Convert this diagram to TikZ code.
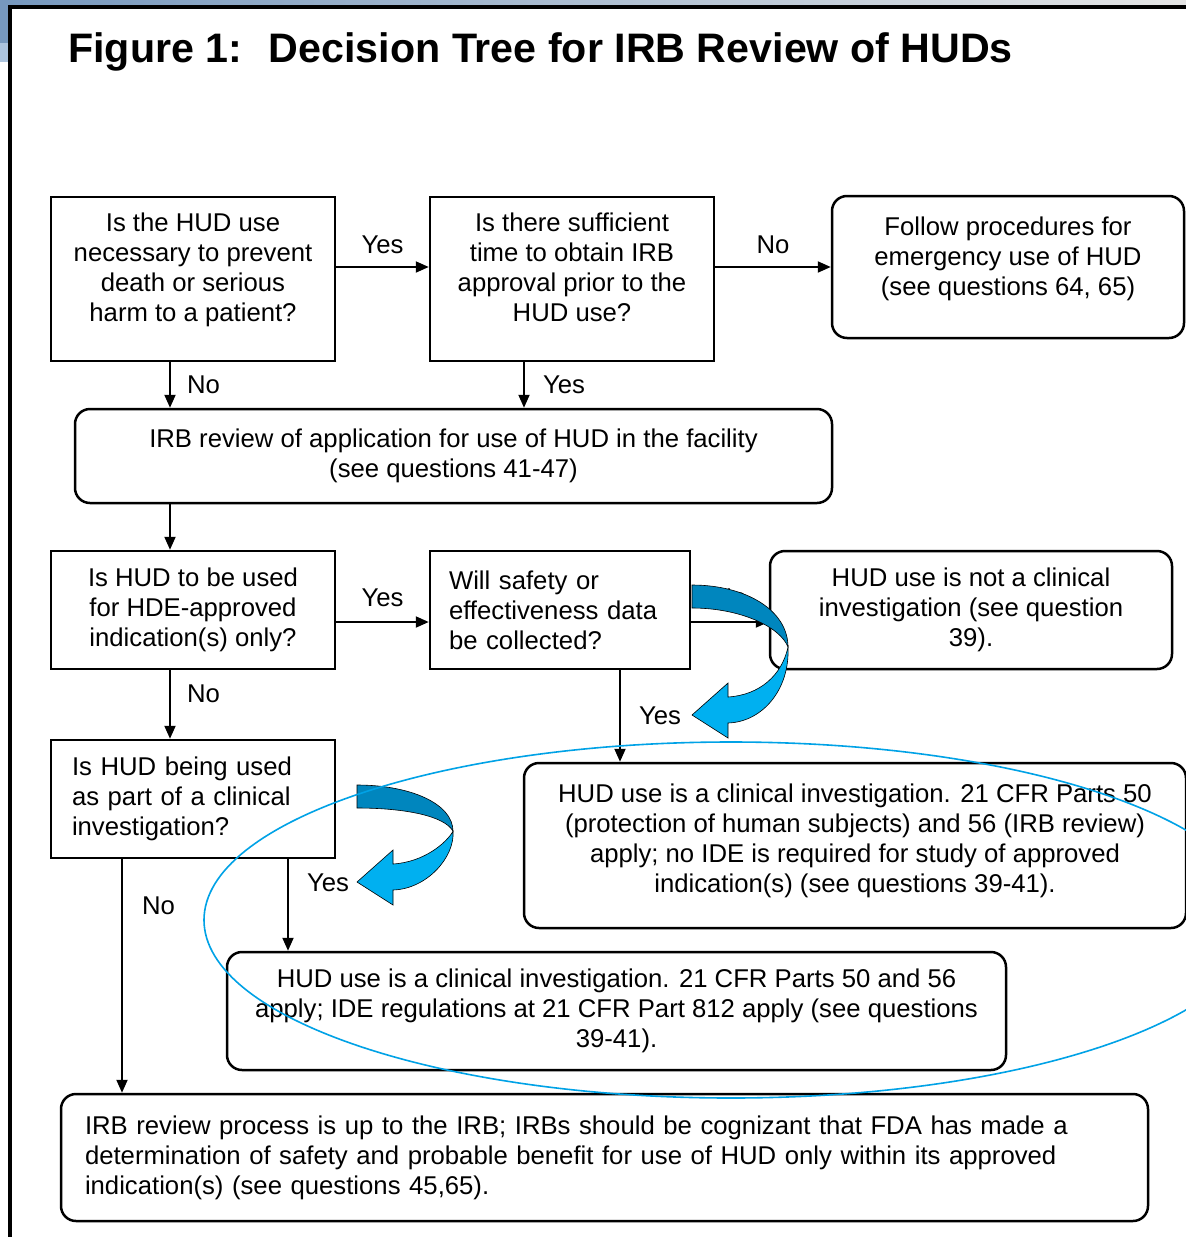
\documentclass[tikz,border=0pt]{standalone}
\usepackage{fontspec}
\setmainfont{Liberation Sans}
\usetikzlibrary{arrows.meta}

\definecolor{slideblue}{RGB}{118,152,190}
\definecolor{slidelight}{RGB}{172,196,222}
\definecolor{curldark}{RGB}{0,134,190}
\definecolor{curllight}{RGB}{0,176,240}
\definecolor{ringblue}{RGB}{0,162,230}

\newcommand{\boxfont}{\fontsize{25.7}{30}\selectfont}
\newcommand{\titlefont}{\fontsize{41.2}{48}\selectfont\bfseries}

% twisted block arrow, drawn in local pixel units; #1 = drop to the tip
\newcommand{\curlarrow}[1]{%
  \pgfmathsetmacro{\tw}{0.477*#1}
  \filldraw[fill=curldark, draw=black, line width=0.6pt]
    (0,0) .. controls (53,0) and (96,0.19*#1) .. (96,\tw)
    .. controls (88,0.32*#1) and (48,23) .. (0,23) -- cycle;
  \filldraw[fill=curllight, draw=black, line width=0.6pt]
    (96,\tw) .. controls (98,#1-25) and (70,#1+7) .. (36,#1+8)
    -- (36,#1+23) -- (0,#1) -- (36,#1-32) -- (36,#1-18)
    .. controls (68,#1-20) and (90,#1-40) .. (96,\tw) -- cycle;
}

\tikzset{
  qbox/.style={draw, line width=2.5pt, align=center, inner sep=0pt, font=\boxfont},
  rbox/.style={qbox, rounded corners=15pt},
  arr/.style={line width=2pt, -{Triangle[length=13pt,width=11pt]}},
  lab/.style={font=\boxfont, inner sep=2pt}
}

\begin{document}
\begin{tikzpicture}[x=1pt,y=-1pt]
  \useasboundingbox (0,0) rectangle (1186,1237);
  \fill[white] (0,0) rectangle (1186,1237);

  % slide background and frame
  \shade[left color=slideblue, right color=black!10] (0,0) rectangle (1186,5);
  \fill[slideblue] (0,0) rectangle (8,43);
  \fill[slidelight] (0,43) rectangle (8,62);
  \draw[line width=4pt] (10,1237) -- (10,7) -- (1186,7);

  \node[anchor=base west, font=\titlefont, inner sep=0pt] (title) at (68,62)
    {Figure 1:~ Decision Tree for IRB Review of HUDs};

  % boxes
  \node[qbox, minimum width=284, minimum height=164, text depth=24pt] (hudnec) at (193,279)
    {Is the HUD use\\necessary to prevent\\death or serious\\harm to a patient?};
  \node[qbox, minimum width=284, minimum height=164, text depth=24pt] (time) at (572,279)
    {Is there sufficient\\time to obtain IRB\\approval prior to the\\HUD use?};
  \node[rbox, minimum width=352, minimum height=142, text depth=22pt] (emerg) at (1008,267)
    {Follow procedures for\\emergency use of HUD\\(see questions 64, 65)};
  \node[rbox, minimum width=757, minimum height=94] (irb) at (453.5,456)
    {IRB review of application for use of HUD in the facility\\(see questions 41-47)};
  \node[qbox, minimum width=284, minimum height=118] (hde) at (193,610)
    {Is HUD to be used\\for HDE-approved\\indication(s) only?};
  \node[qbox, align=left, inner xsep=19pt, text width=222, minimum height=118] (data) at (560,610)
    {Will safety or\\effectiveness data\\be collected?};
  \node[rbox, minimum width=402, minimum height=118] (notci) at (971,610)
    {HUD use is not a clinical\\investigation (see question\\39).};
  \node[qbox, align=left, inner xsep=21pt, text width=242, minimum height=118] (inv) at (193,799)
    {Is HUD being used\\as part of a clinical\\investigation?};
  \node[rbox, minimum width=662, minimum height=165, text depth=14pt] (noide) at (855,845.5)
    {HUD use is a clinical investigation. 21 CFR Parts 50\\(protection of human subjects) and 56 (IRB review)\\apply; no IDE is required for study of approved\\indication(s) (see questions 39-41).};
  \node[rbox, minimum width=779, minimum height=118] (ide) at (616.5,1011)
    {HUD use is a clinical investigation. 21 CFR Parts 50 and 56\\apply; IDE regulations at 21 CFR Part 812 apply (see questions\\39-41).};
  \node[rbox, align=left, inner xsep=24pt, text width=1039, minimum height=127] (upto) at (604.5,1157.5)
    {IRB review process is up to the IRB; IRBs should be cognizant that FDA has made a\\determination of safety and probable benefit for use of HUD only within its approved\\indication(s) (see questions 45,65).};

  % connectors
  \draw[arr] ([yshift=12]hudnec.east) -- ([yshift=12]time.west)
    node[midway, above=10pt, lab] {Yes};
  \draw[arr] ([yshift=12]time.east) -- ([yshift=12]time.east -| emerg.west)
    node[midway, above=10pt, lab] {No};
  \draw[arr] ([xshift=-23]hudnec.south) -- ([xshift=-23]hudnec.south |- irb.north)
    node[midway, right=14pt, lab] {No};
  \draw[arr] ([xshift=-48]time.south) -- ([xshift=-48]time.south |- irb.north)
    node[midway, right=16pt, lab] {Yes};
  \draw[arr] ([xshift=-23]hde.north |- irb.south) -- ([xshift=-23]hde.north);
  \draw[arr] ([yshift=-12]hde.east) -- ([yshift=-12]hde.east -| data.west)
    node[midway, above=12pt, lab] {Yes};
  \draw[arr] ([yshift=-12]data.east) -- ([yshift=-12]data.east -| notci.west)
    node[midway, above=12pt, lab] {No};
  \draw[arr] ([xshift=-23]hde.south) -- ([xshift=-23]hde.south |- inv.north)
    node[pos=0.34, right=14pt, lab] {No};
  \draw[arr] ([xshift=60]data.south) -- ([xshift=60]data.south |- noide.north)
    node[midway, right=16pt, lab] {Yes};
  \draw[arr] ([xshift=95]inv.south) -- ([xshift=95]inv.south |- ide.north)
    node[pos=0.26, right=16pt, lab] {Yes};
  \draw[arr] ([xshift=-71]inv.south) -- ([xshift=-71]inv.south |- upto.north)
    node[pos=0.2, right=17pt, lab] {No};

  % blue marks
  \begin{scope}[shift={(692,585)}]
    \curlarrow{130}
  \end{scope}
  \begin{scope}[shift={(357,785)}]
    \curlarrow{97}
  \end{scope}
  \draw[ringblue, line width=1.6pt] (731,920) ellipse [x radius=527, y radius=178];
\end{tikzpicture}
\end{document}
